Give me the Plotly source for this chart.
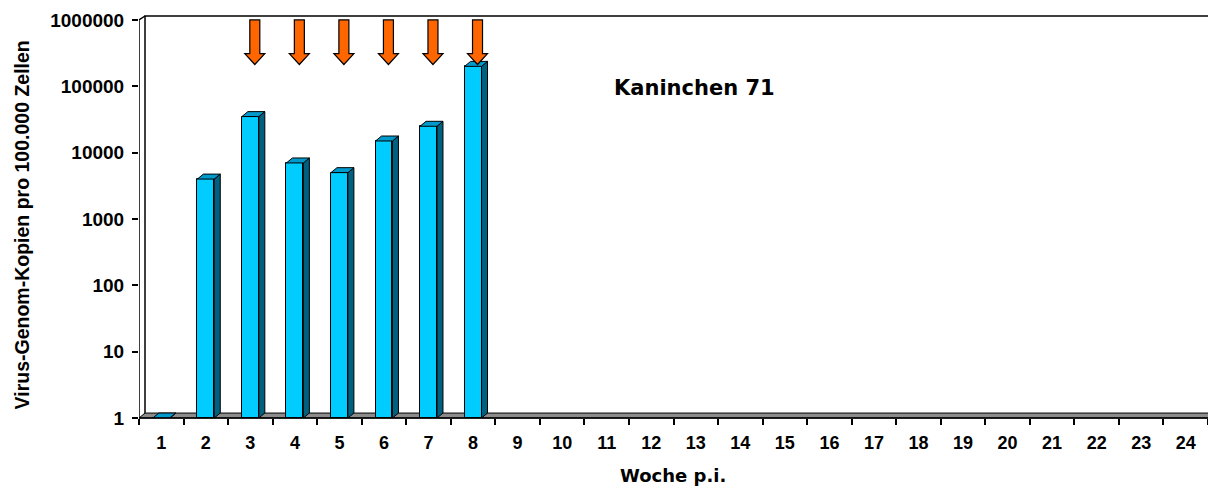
import plotly.graph_objects as go

# ---------------- data ----------------
weeks = list(range(1, 25))
week_labels = [str(w) for w in weeks]
copies = [1, 4000, 35000, 7000, 5000, 15000, 25000, 200000] + [None] * 16
arrow_weeks = [3, 4, 5, 6, 7, 8]
y_tickvals = [1, 10, 100, 1000, 10000, 100000, 1000000]
y_ticktext = ["1", "10", "100", "1000", "10000", "100000", "1000000"]
title_text = "Kaninchen 71"
x_title = "Woche p.i."
y_title = "Virus-Genom-Kopien pro 100.000 Zellen"

# ---------------- geometry / style ----------------
OFF = 8                                 # page body margin of the html page
W, H = 1216 - OFF, 490 - OFF
ML, MR, MT, MB = 139 - OFF, 2, 12 - OFF, 72
plot_w = W - ML - MR
plot_h = H - MT - MB
DX = 6 / (plot_w / 24.135)              # 3D depth in x data units
X_MAX = 24.5 + DX
ppu = plot_w / (X_MAX - 0.5)            # px per x unit
Y_TOP = 6.06
ppd = plot_h / Y_TOP                    # px per decade
DEPTH_PX = 5
K = 10 ** (DEPTH_PX / ppd)              # 3D depth factor in y
HW = 0.19                               # half bar width

FRONT = "#00CCFF"
SIDE = "#006080"
TOP = "#0099CC"
FLOOR = "#8C8C8C"
ARROW = "#FF6600"
FONT = "Arial"


def py2paper(py):
    """py: pixel y in the page (reference) coordinates."""
    return (H + OFF - MB - py) / plot_h


def px2paper(px):
    return (px - OFF - ML) / plot_w


fig = go.Figure()

# front faces (bar length measured from the axis base 1)
lengths = [None if v is None else v - 1 for v in copies]
fig.add_trace(go.Bar(
    x=weeks, y=lengths, base=[1] * len(weeks), width=HW * 2,
    marker=dict(color=FRONT, line=dict(color="black", width=1)),
    hoverinfo="skip", showlegend=False,
))

# side and top faces
sx, sy, tx, ty = [], [], [], []
for w, v in zip(weeks, copies):
    if v is None:
        continue
    r = w + HW
    l = w - HW
    sx += [r, r + DX, r + DX, r, r, None]
    sy += [1, K, v * K, v, 1, None]
    tx += [l, l + DX, r + DX, r, l, None]
    ty += [v, v * K, v * K, v, v, None]

fig.add_trace(go.Scatter(x=sx, y=sy, mode="lines", fill="toself", fillcolor=SIDE,
                         line=dict(color="black", width=1), hoverinfo="skip", showlegend=False))
fig.add_trace(go.Scatter(x=tx, y=ty, mode="lines", fill="toself",
                         fillcolor=TOP, line=dict(color="black", width=1),
                         hoverinfo="skip", showlegend=False))

shapes = []
floor_top = DEPTH_PX / plot_h
# floor
shapes.append(dict(type="path", xref="x", yref="paper", layer="below",
                   path=f"M 0.5,0 L 24.5,0 L {24.5+DX},{floor_top} L {0.5+DX},{floor_top} Z",
                   fillcolor=FLOOR, line=dict(color="black", width=1)))
# back wall
shapes.append(dict(type="path", xref="x", yref="paper", layer="below",
                   path=f"M {0.5+DX},{floor_top} L {0.5+DX},1 L {24.5+DX},1 L {24.5+DX},{floor_top}",
                   line=dict(color="black", width=1.5)))
# left axis line + diagonal to back wall
top_tick = 6 * ppd / plot_h
shapes.append(dict(type="path", xref="x", yref="paper", layer="above",
                   path=f"M 0.5,0 L 0.5,{top_tick} L {0.5+DX},1",
                   line=dict(color="black", width=1.5)))
# front x axis line
shapes.append(dict(type="line", xref="x", yref="paper", layer="above",
                   x0=0.5, x1=24.5, y0=0, y1=0, line=dict(color="black", width=1.5)))

# arrows
a_top, a_head, a_tip = py2paper(16), py2paper(50), py2paper(61)
sw, hw = 5 / ppu, 10 / ppu
for w in arrow_weeks:
    c = w + 0.1
    shapes.append(dict(
        type="path", xref="x", yref="paper", layer="above",
        path=(f"M {c-sw},{a_top} L {c+sw},{a_top} L {c+sw},{a_head} L {c+hw},{a_head} "
              f"L {c},{a_tip} L {c-hw},{a_head} L {c-sw},{a_head} Z"),
        fillcolor=ARROW, line=dict(color="black", width=1.2)))

annotations = [
    dict(text=title_text, xref="paper", yref="paper", x=px2paper(694), y=py2paper(85),
         showarrow=False, xanchor="center", yanchor="middle",
         font=dict(family="DejaVu Sans", size=21, color="black", weight="bold")),
    dict(text=x_title, xref="paper", yref="paper", x=px2paper(672.5), y=py2paper(476),
         showarrow=False, xanchor="center", yanchor="middle",
         font=dict(family="DejaVu Sans", size=18, color="black", weight="bold")),
    dict(text=y_title, xref="paper", yref="paper", x=px2paper(22), y=py2paper(223.5),
         showarrow=False, xanchor="center", yanchor="middle", textangle=-90,
         font=dict(family=FONT, size=19.5, color="black", weight="bold")),
]

fig.update_layout(
    width=W, height=H,
    margin=dict(l=ML, r=MR, t=MT, b=MB),
    paper_bgcolor="white", plot_bgcolor="white",
    shapes=shapes, annotations=annotations,
    showlegend=False, bargap=0,
    font=dict(family=FONT, color="black"),
    xaxis=dict(
        range=[0.5, X_MAX], tickmode="array", tickvals=weeks, ticktext=week_labels,
        ticks="", showgrid=False, zeroline=False, showline=False,
        tickfont=dict(family=FONT, size=18, color="black", weight="bold"),
        ticklabelstandoff=12, ticklabeloverflow="allow",
        minor=dict(tickmode="linear", tick0=0.5, dtick=1, ticks="outside", ticklen=6,
                   tickcolor="black", tickwidth=1.5, showgrid=False),
        fixedrange=True,
    ),
    yaxis=dict(
        type="log", range=[0, Y_TOP], tickmode="array", tickvals=y_tickvals, ticktext=y_ticktext,
        ticks="outside", ticklen=6, tickcolor="black", tickwidth=1.5,
        showgrid=False, zeroline=False, showline=False,
        tickfont=dict(family=FONT, size=19, color="black", weight="bold"),
        ticklabelstandoff=4, ticklabeloverflow="allow", fixedrange=True,
    ),
)

fig.write_html("out.html")
